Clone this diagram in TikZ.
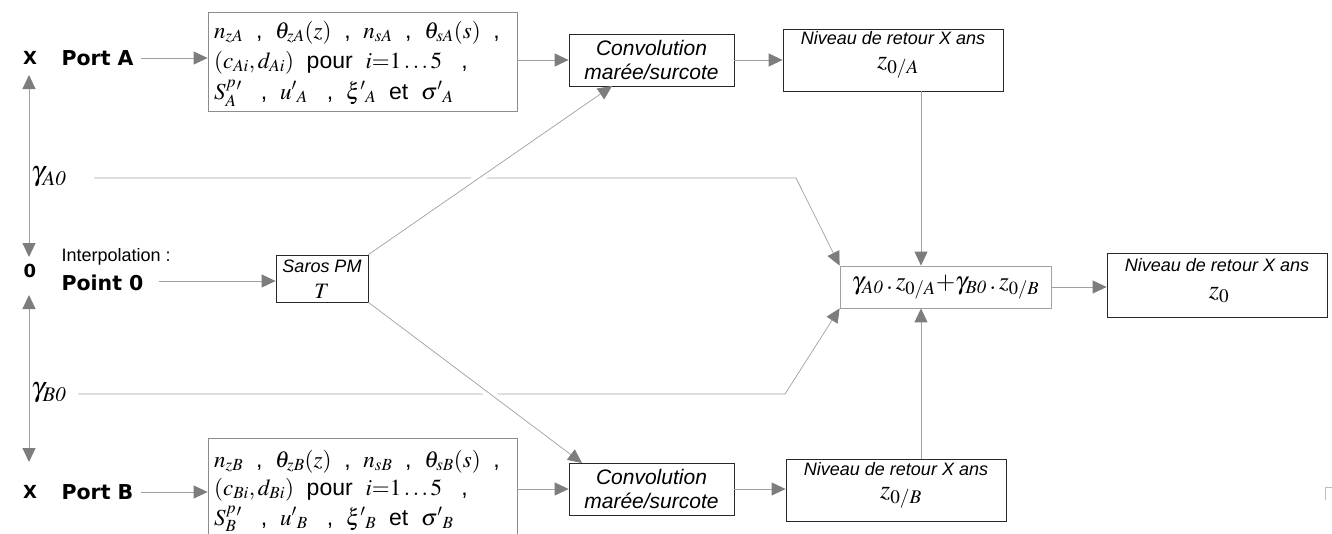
\documentclass[tikz,border=0pt]{standalone}
\usepackage{mathptmx}
\usepackage[no-math]{fontspec}
\setmainfont{Liberation Sans}
\newfontfamily\heavy{DejaVu Sans}
\usetikzlibrary{arrows.meta}
\definecolor{lgray}{RGB}{160,160,160}
\definecolor{agray}{RGB}{125,125,125}
\definecolor{bgray}{RGB}{140,140,140}
\definecolor{dark}{RGB}{40,40,40}
\begin{document}
\begin{tikzpicture}[x=1pt,y=-1pt,
  >={Triangle[length=14pt,width=13pt,color=agray]},
  line/.style={draw=lgray, line width=1pt},
  thin line/.style={draw=lgray, line width=0.7pt},
  arr/.style={line, ->},
  darr/.style={line, <->},
  darkbox/.style={draw=dark, line width=0.8pt, inner sep=0pt},
  graybox/.style={draw=bgray, line width=0.8pt, inner sep=0pt},
  big/.style={font=\heavy\bfseries\fontsize{20.5}{22}\selectfont},
  small/.style={font=\heavy\bfseries\fontsize{18}{19}\selectfont},
  ital/.style={font=\itshape\fontsize{21}{25}\selectfont, align=center},
  nital/.style={font=\itshape\fontsize{18}{20}\selectfont},
  zlab/.style={font=\fontsize{26}{28}\selectfont},
  param/.style={font=\fontsize{23}{25}\selectfont, anchor=base west, inner sep=0pt}
]
\useasboundingbox (0,0) rectangle (1332,533);
\clip (0,0) rectangle (1332,533);

% left labels
\node[small] (xA) at (30,58) {X};
\node[big, anchor=west] (portA) at (58,58) {Port A};
\node[small] (zero) at (30,271) {0};
\node[font=\fontsize{18}{20}\selectfont, anchor=west] (interp) at (58,257) {Interpolation :};
\node[big, anchor=west] (pt0) at (58,283) {Point 0};
\node[small] (xB) at (30,492) {X};
\node[big, anchor=west] (portB) at (58,492) {Port B};
\node[font=\fontsize{28}{30}\selectfont, anchor=west, inner sep=0pt] (gA) at (31,177) {$\gamma_{\mathit{A0}}$};
\node[font=\fontsize{28}{30}\selectfont, anchor=west, inner sep=0pt] (gB) at (31,393) {$\gamma_{\mathit{B0}}$};

\coordinate (a1) at (29,75);
\coordinate (a2) at (29,257);
\coordinate (b1) at (29,295);
\coordinate (b2) at (29,462);
\draw[darr] (a1) -- (a2);
\draw[darr] (b1) -- (b2);

% parameter boxes
\node[graybox, minimum width=309pt, minimum height=99pt] (pA) at (362.5,61.5) {};
\node[param] (pA1) at (214,38) {$n_{zA}$\ \ ,\ \ $\theta_{zA}(z)$\ \ ,\ \ $n_{sA}$\ \ ,\ \ $\theta_{sA}(s)$\ \ ,};
\node[param] (pA2) at (214,68) {$(c_{Ai},d_{Ai})$\ \ pour\ \ $i{=}1\ldots5$\ \ \ ,};
\node[param] (pA3) at (214,99) {$S^p_A{}'$\ \ \ ,\ \ $u'{}_A$\ \ \ ,\ \ $\xi'{}_A$\ \ et\ \ $\sigma'{}_A$};
\node[graybox, minimum width=309pt, minimum height=99pt] (pB) at (362.5,487.5) {};
\node[param] (pB1) at (214,467) {$n_{zB}$\ \ ,\ \ $\theta_{zB}(z)$\ \ ,\ \ $n_{sB}$\ \ ,\ \ $\theta_{sB}(s)$\ \ ,};
\node[param] (pB2) at (214,495) {$(c_{Bi},d_{Bi})$\ \ pour\ \ $i{=}1\ldots5$\ \ \ ,};
\node[param] (pB3) at (214,525) {$S^p_B{}'$\ \ \ ,\ \ $u'{}_B$\ \ \ ,\ \ $\xi'{}_B$\ \ et\ \ $\sigma'{}_B$};

% convolution boxes
\node[darkbox, minimum width=165pt, minimum height=52pt, ital] (convA) at (651.5,60) {Convolution\\[-1pt]marée/surcote};
\node[darkbox, minimum width=165pt, minimum height=52pt, ital] (convB) at (651.5,489) {Convolution\\[-1pt]marée/surcote};

% niveau boxes
\node[darkbox, minimum width=220pt, minimum height=62pt] (nivA) at (893,60) {};
\node[nital] (nivAt) at (893,38) {Niveau de retour X ans};
\node[zlab] (nivAz) at (898,68) {$z_{0/A}$};
\node[darkbox, minimum width=220pt, minimum height=62pt] (nivB) at (896,490) {};
\node[nital] (nivBt) at (896,469) {Niveau de retour X ans};
\node[zlab] (nivBz) at (901,498) {$z_{0/B}$};

% saros
\node[darkbox, minimum width=92pt, minimum height=47pt] (saros) at (322,278.5) {};
\node[nital] (sarosT) at (322,266) {Saros PM};
\node[font=\fontsize{22}{24}\selectfont] (sarosV) at (322,291) {$T$};

% sum box
\node[graybox, draw=lgray, minimum width=211pt, minimum height=42pt, font=\fontsize{25}{27}\selectfont] (sum) at (945.5,287)
  {$\gamma_{\mathit{A0}}\,\mathbf{.}\,z_{0/A}\mathbf{+}\gamma_{\mathit{B0}}\,\mathbf{.}\,z_{0/B}$};

% final box
\node[darkbox, minimum width=220pt, minimum height=64pt] (fin) at (1217,285) {};
\node[nital] (finT) at (1217,265) {Niveau de retour X ans};
\node[zlab] (finZ) at (1219,295) {$z_{0}$};

% connectors
\draw[arr] (portA.east) ++(4,0) -- (portA.east -| pA.west);
\draw[arr] (pA.east |- convA.west) -- (convA.west);
\draw[arr] (convA.east) -- (convA.east -| nivA.west);
\draw[arr] (portB.east) ++(4,0) -- (portB.east -| pB.west);
\draw[arr] (pB.east |- convB.west) -- (convB.west);
\draw[arr] (convB.east) -- (convB.east -| nivB.west);
\draw[arr] (pt0.east) ++(12,-2) -- (saros.west |- 0,281);
\draw[arr] (sum.east) -- (fin.west |- sum.east);

\coordinate (vA) at (921,0);
\draw[arr] (nivA.south -| vA) -- (sum.north -| vA);
\draw[arr] (nivB.north -| vA) -- (sum.south -| vA);

\coordinate (kA) at (796,178);
\coordinate (kB) at (785,394);
\draw[thin line, ->] (gA.east) ++(28,1) -- (kA) -- (sum.north west);
\draw[thin line, ->] (gB.east) ++(12,1) -- (kB) -- (sum.south west);

\coordinate (cAin) at (612,86);
\coordinate (cBin) at (582,463);
\draw[white, line width=9pt, shorten <=60pt, shorten >=60pt] (saros.north east) -- (cAin);
\draw[white, line width=9pt, shorten <=60pt, shorten >=60pt] (saros.south east) -- (cBin);
\draw[thin line, ->] (saros.north east) -- (cAin);
\draw[thin line, ->] (saros.south east) -- (cBin);

% corner mark
\draw[draw=lgray!70, line width=0.8pt] (1325,500) -- (1325,487) -- (1332,487);
\end{tikzpicture}
\end{document}
